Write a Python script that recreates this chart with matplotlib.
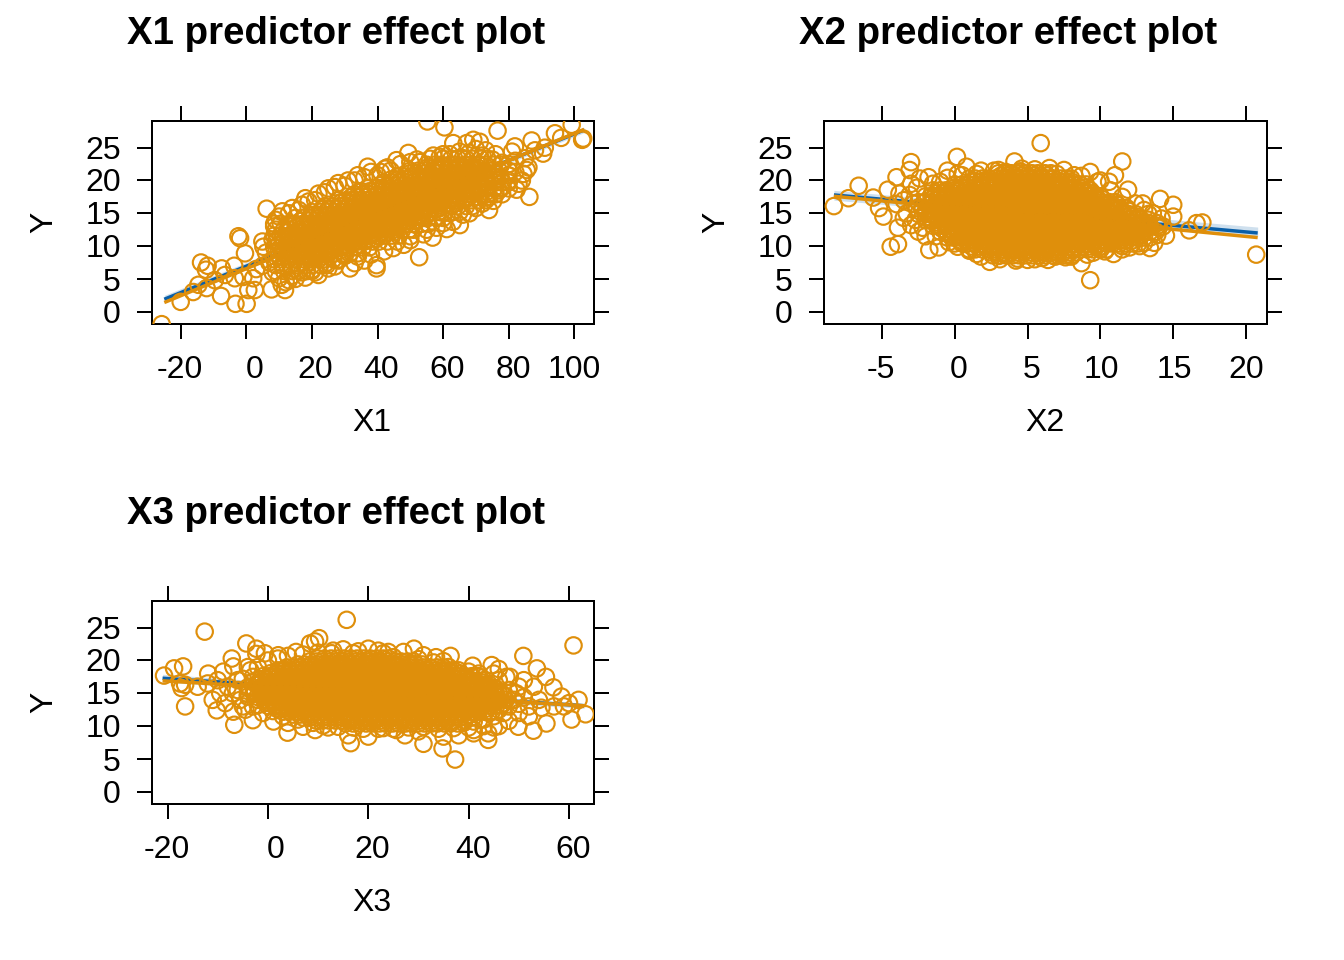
import matplotlib
matplotlib.use("Agg")
import matplotlib.pyplot as plt

plt.rcParams['font.family'] = ['Liberation Sans', 'DejaVu Sans']
W, H = 1344, 960
ORANGE = '#DF8F0B'
BLUE = '#0A5FA8'
BAND = '#CFE0EE'

# ---------- panel X1: readings ----------
x1_fringe = [(-25.8,-1.9),(-20,1.5),(-7.7,2.4),(-3.3,1.2),(0.1,1.2),(-13.8,7.5),(-11.8,7.0),(-12.3,6.4),(-2.4,11.5),(-1.9,11.2),
 (-0.4,8.9),(6.2,15.7),(-7.5,6.6),(-3.7,7.0),(-14.6,4.1),(-16.2,3.0),(-12.1,3.6),(-9.6,4.8),(-6.5,5.6),(-3.5,5.1),(0.6,3.3),(2.6,3.3),
 (2.1,5.1),(-0.9,5.3),(7.7,3.4),(11.8,3.3),(10.8,4.1),(4.9,10.7),(5.2,9.9),(52.7,8.3),(56.8,11.3),(61.1,12.6),(65.1,13.2),(75.3,16.9),
 (86.3,17.5),(82.4,18.6),(76.6,27.6),(55.2,29.0),(60.4,28.1),(63.1,25.7),(94.1,27.2),(99.2,28.5),(102.4,26.2),(102.7,26.4),(87,26.1),
 (81.9,25.2),(90.5,24.1),(85.5,21.6),(84.5,21),(86,22),(79.9,20.8),(76.3,20.1),(70.7,17.5),(73.3,18.3),(69.2,26.2),(71.2,25.9),(67.2,25.7),
 (37,22.1),(42.3,21.8),(49.4,24.2),(45.8,23.1),(22,5.6),(31.6,6.6),(39.7,7.1),(39.7,6.6),(44.8,9.7),(48,10.2),(50,10.9),(25,6.6),(28,7.8),
 (33,7.4),(36,7.8),(14,5.5),(17,6),(20,6.4),(12,4.5),(5,7),(3,6.5),(6,9),(7,7.5),(8,11),(8.5,13),(10,14.5),(13,15),(17,16.3),(19,16.8),
 (22,18),(25,18.8),(27,19),(30,19.2),(33,20),(36,20.5),(40,20.8),(44,21.5),(52,23.2),(57,23.8),(60,24),(65,24.4),(70,24.8),(73,24.6),(76,24),
 (81,24.4),(85,23.4),(88,24.6),(82,23),(80,22.5),(74,15.5),(68,15),(60,13.5),(55,12.5),(83,19.5),(84,20),(78,19),(91,25),(96,26.5),
 (9,14),(11,15.3),(14,15.8),(16,15.5),(18,17.3),(21,17),(24,18.2),(28,19.6),(31,20),(34,20.8),(38,21.3),(41,21.3),(43,22),(47,22.5),(50,22.8),
 (53,22.8),(56,23.3),(59,23.6),(62,24),(66,23.4),(68,24.2),(72,23.8),(75,23.2),(78,22.7),(80,21.5),(82,21.3),(80,20),(77,18.5),(74,17.5),(72,16.5),
 (70,15.8),(66,14.8),(63,13.7),(58,12.8),(54,11.8),(50,11.5),(46,10.7),(42,9.2),(38,8.7),(34,8.4),(30,8.5),(27,6.9),(24,7.3),(21,6),(18,5.2),
 (15,5),(13,4.8),(10,5.1),(8,6)]
x1_rows_y = [6.2,7.1,8.0,8.9,9.8,10.7,11.6,12.5,13.4,14.3,15.2,16.1,17.0,17.9,18.8,19.7,20.6,21.5,22.4,23.3,
 8.45,9.35,10.25,11.15,12.05,12.95,13.85,14.75,15.65,16.55,17.45,18.35,19.25,20.15,21.05,21.95]
x1_rows_x = [
 [9,11.5,14,16,18.5,20],
 [9,11,13.5,15.5,18,20,22.5,24.5],
 [8.5,10.5,13,15,17.5,19.5,22,24,26.5,28.5],
 [9,11.5,13.5,16,18,20.5,22.5,25,27,29.5,31.5,34],
 [8.5,10.5,13,15,17.5,19.5,22,24,26.5,28.5,31,33,35.5,37.5],
 [9,11.5,13.5,16,18,20.5,22.5,25,27,29.5,31.5,34,36,38.5,40.5,43],
 [8.5,10.5,13,15,17.5,19.5,22,24,26.5,28.5,31,33,35.5,37.5,40,42,44.5,46.5],
 [9,11.5,13.5,16,18,20.5,22.5,25,27,29.5,31.5,34,36,38.5,40.5,43,45,47.5,49.5,51],
 [8.5,10.5,13,15,17.5,19.5,22,24,26.5,28.5,31,33,35.5,37.5,40,42,44.5,46.5,49,51,53.5,55.5],
 [15,17.5,19.5,22,24,26.5,28.5,31,33,35.5,37.5,40,42,44.5,46.5,49,51,53.5,55.5,58,60],
 [20,22.5,24.5,27,29,31.5,33.5,36,38,40.5,42.5,45,47,49.5,51.5,54,56,58.5,60.5,63,65],
 [24,26.5,28.5,31,33,35.5,37.5,40,42,44.5,46.5,49,51,53.5,55.5,58,60,62.5,64.5,67,69],
 [28,30.5,32.5,35,37,39.5,41.5,44,46,48.5,50.5,53,55,57.5,59.5,62,64,66.5,68.5,71,73],
 [33,35.5,37.5,40,42,44.5,46.5,49,51,53.5,55.5,58,60,62.5,64.5,67,69,71.5,73.5,76,78],
 [37,39.5,41.5,44,46,48.5,50.5,53,55,57.5,59.5,62,64,66.5,68.5,71,73,75.5,77.5,80],
 [42,44.5,46.5,49,51,53.5,55.5,58,60,62.5,64.5,67,69,71.5,73.5,76,78,80],
 [46,48.5,50.5,53,55,57.5,59.5,62,64,66.5,68.5,71,73,75.5,77.5],
 [50,52.5,54.5,57,59,61.5,63.5,66,68,70.5,72.5,75,77],
 [55,57.5,59.5,62,64,66.5,68.5,71,73,75.5,77.5],
 [60,62.5,64.5,67,69,71.5,73.5],
 [10,12.2,14.4,16.6,18.8,21,23.2,25.4],
 [11.1,13.3,15.5,17.7,19.9,22.1,24.3,26.5,28.7],
 [10,12.2,14.4,16.6,18.8,21,23.2,25.4,27.6,29.8,32,34.2],
 [11.1,13.3,15.5,17.7,19.9,22.1,24.3,26.5,28.7,30.9,33.1,35.3,37.5,39.7],
 [12.2,14.4,16.6,18.8,21,23.2,25.4,27.6,29.8,32,34.2,36.4,38.6,40.8,43],
 [13.3,15.5,17.7,19.9,22.1,24.3,26.5,28.7,30.9,33.1,35.3,37.5,39.7,41.9,44.1,46.3],
 [16.6,18.8,21,23.2,25.4,27.6,29.8,32,34.2,36.4,38.6,40.8,43,45.2,47.4,49.6,51.8],
 [19.9,22.1,24.3,26.5,28.7,30.9,33.1,35.3,37.5,39.7,41.9,44.1,46.3,48.5,50.7,52.9,55.1],
 [23.2,25.4,27.6,29.8,32,34.2,36.4,38.6,40.8,43,45.2,47.4,49.6,51.8,54,56.2,58.4],
 [28.7,30.9,33.1,35.3,37.5,39.7,41.9,44.1,46.3,48.5,50.7,52.9,55.1,57.3,59.5,61.7,63.9],
 [32,34.2,36.4,38.6,40.8,43,45.2,47.4,49.6,51.8,54,56.2,58.4,60.6,62.8,65,67.2],
 [35.3,37.5,39.7,41.9,44.1,46.3,48.5,50.7,52.9,55.1,57.3,59.5,61.7,63.9,66.1,68.3,70.5],
 [40.8,43,45.2,47.4,49.6,51.8,54,56.2,58.4,60.6,62.8,65,67.2,69.4,71.6,73.8],
 [44.1,46.3,48.5,50.7,52.9,55.1,57.3,59.5,61.7,63.9,66.1,68.3,70.5,72.7],
 [49.6,51.8,54,56.2,58.4,60.6,62.8,65,67.2,69.4,71.6,73.8],
 [55.1,57.3,59.5,61.7,63.9,66.1,68.3,70.5],
]
x1_line_x = [-25, 103]
x1_blue = [1.9, 27.7]
x1_orange = [1.4, 27.8]
x1_band_lo = [1.4, 27.3]
x1_band_hi = [2.5, 28.1]

# ---------- panel X2 ----------
x2_fringe = [(5.9,25.7),(-8.3,16.1),(-7.3,17.3),(-6.6,19.2),(-5.6,17.4),(-5.2,15.8),(-4.9,14.5),(-3.9,12.8),(-4.4,9.9),(-3.9,10.3),
 (-1.75,9.4),(-1.1,9.8),(-2.5,12.2),(-3,22.8),(-3.1,21.6),(-4,20.5),(-4.6,18.6),(0.15,23.6),(-0.5,21.5),(0.8,22.1),(2.7,21.5),(4.1,22.9),
 (4.6,21.8),(0.4,10.7),(2.4,7.6),(3.6,8.6),(5,7.9),(6.9,8.4),(8.7,7.4),(9.3,4.8),(10.9,8.8),(13.4,9.7),(11.5,22.9),(11,20.8),(10.6,19.8),
 (9.3,21.3),(11.9,18.6),(8.2,20.8),(12.9,16.5),(14.1,17.2),(15,16.3),(15,14.5),(13,15.5),(13.9,13.5),(13.9,11.7),(16.1,12.4),(16.6,13.5),
 (17,13.6),(20.7,8.7),(12,9.8),(9.9,9.8),(-3.5,17),(-3.3,15),(-4,16.4),(-3.8,18),(-3,19.5),(-2.4,20.3),(-1.8,20.5),(-1,19.8),(-2.7,14),
 (-2,11.5),(-0.5,12),(0.2,21),(1.5,21),(3.5,21.3),(7,21),(10,20),(1.5,8.8),(3,8.5),(4.3,8.1),(6,8.2),(8,8.4),(9.5,9),(11.5,10),(13,10.5),(14,12.8),(13.6,15),
 (-2.8,16.5),(-3.1,17.8),(-2.6,18.9),(-1.5,19.5),(-0.5,20.4),(0.5,20.8),(1.8,21.5),(3,21.6),(4.5,21.4),(5.5,21.7),(6.5,21.9),(7.5,21.6),(8.7,20.7),
 (9.8,19.8),(10.7,18.5),(11.5,17.5),(12.4,16.5),(13.3,14.9),(14.2,14.2),(14.3,13),(14.5,11.6),(13.7,10.5),(12.7,10),(11.5,9.5),(10.3,9.2),(9.1,8.7),
 (7.6,8.3),(6.4,7.9),(5.5,8),(4.2,7.8),(3.1,8),(1.8,8.4),(1,9.3),(0.2,9.9),(-0.4,10.6),(-1.3,11.5),(-2.2,12.8),(-3,13.2),(-3.5,14.3)]
x2_rows_y = [8.6,9.5,10.4,11.3,12.2,13.1,14.0,14.9,15.8,16.7,17.6,18.5,19.4,20.3,21.1,
 9.05,9.95,10.85,11.75,12.65,13.55,14.45,15.35,16.25,17.15,18.05,18.95,19.85,20.75]
x2_rows_x = [
 [2.6,3.1,3.5,4,4.4,4.9,5.3,5.8,6.2,6.7,7.1,7.6,8],
 [1,1.4,1.9,2.3,2.8,3.2,3.7,4.1,4.6,5,5.5,5.9,6.4,6.8,7.3,7.7,8.2,8.6,9.1,9.5,10,10.4],
 [0,0.5,0.9,1.4,1.8,2.3,2.7,3.2,3.6,4.1,4.5,5,5.4,5.9,6.3,6.8,7.2,7.7,8.1,8.6,9,9.5,9.9,10.4,10.8,11.3,11.7,12.2,12.6],
 [-0.5,-0.1,0.4,0.8,1.3,1.7,2.2,2.6,3.1,3.5,4,4.4,4.9,5.3,5.8,6.2,6.7,7.1,7.6,8,8.5,8.9,9.4,9.8,10.3,10.7,11.2,11.6,12.1,12.5,13,13.4],
 [-1,-0.6,-0.1,0.3,0.8,1.2,1.7,2.1,2.6,3,3.5,3.9,4.4,4.8,5.3,5.7,6.2,6.6,7.1,7.5,8,8.4,8.9,9.3,9.8,10.2,10.7,11.1,11.6,12,12.5,12.9,13.4,13.8],
 [-1.5,-1,-0.6,-0.1,0.3,0.8,1.2,1.7,2.1,2.6,3,3.5,3.9,4.4,4.8,5.3,5.7,6.2,6.6,7.1,7.5,8,8.4,8.9,9.3,9.8,10.2,10.7,11.1,11.6,12,12.5,12.9,13.4,13.9],
 [-2,-1.6,-1.1,-0.7,-0.2,0.2,0.7,1.1,1.6,2,2.5,2.9,3.4,3.8,4.3,4.7,5.2,5.6,6.1,6.5,7,7.4,7.9,8.3,8.8,9.2,9.7,10.1,10.6,11,11.5,11.9,12.4,12.8,13.3],
 [-2.5,-2,-1.6,-1.1,-0.7,-0.2,0.2,0.7,1.1,1.6,2,2.5,2.9,3.4,3.8,4.3,4.7,5.2,5.6,6.1,6.5,7,7.4,7.9,8.3,8.8,9.2,9.7,10.1,10.6,11,11.5,11.9,12.4],
 [-2.6,-2.2,-1.7,-1.3,-0.8,-0.4,0.1,0.5,1,1.4,1.9,2.3,2.8,3.2,3.7,4.1,4.6,5,5.5,5.9,6.4,6.8,7.3,7.7,8.2,8.6,9.1,9.5,10,10.4,10.9,11.3,11.8],
 [-2.5,-2,-1.6,-1.1,-0.7,-0.2,0.2,0.7,1.1,1.6,2,2.5,2.9,3.4,3.8,4.3,4.7,5.2,5.6,6.1,6.5,7,7.4,7.9,8.3,8.8,9.2,9.7,10.1,10.6,11],
 [-2,-1.6,-1.1,-0.7,-0.2,0.2,0.7,1.1,1.6,2,2.5,2.9,3.4,3.8,4.3,4.7,5.2,5.6,6.1,6.5,7,7.4,7.9,8.3,8.8,9.2,9.7,10],
 [-1.5,-1,-0.6,-0.1,0.3,0.8,1.2,1.7,2.1,2.6,3,3.5,3.9,4.4,4.8,5.3,5.7,6.2,6.6,7.1,7.5,8,8.4,8.9,9.3],
 [0,0.5,0.9,1.4,1.8,2.3,2.7,3.2,3.6,4.1,4.5,5,5.4,5.9,6.3,6.8,7.2,7.7,8.1,8.6,9],
 [1,1.4,1.9,2.3,2.8,3.2,3.7,4.1,4.6,5,5.5,5.9,6.4,6.8,7.3,7.7,8],
 [3,3.5,3.9,4.4,4.8,5.3,5.7,6.2,6.6],
 [2.5,2.95,3.4,3.85,4.3,4.75,5.2,5.65,6.1,6.55,7,7.45,7.9,8.35],
 [1.15,1.6,2.05,2.5,2.95,3.4,3.85,4.3,4.75,5.2,5.65,6.1,6.55,7,7.45,7.9,8.35,8.8,9.25,9.7,10.15],
 [0.48,0.93,1.38,1.83,2.28,2.73,3.18,3.63,4.08,4.53,4.98,5.43,5.88,6.33,6.78,7.23,7.68,8.13,8.58,9.03,9.48,9.93,10.38,10.83,11.28,11.73,12.18],
 [-0.2,0.25,0.7,1.15,1.6,2.05,2.5,2.95,3.4,3.85,4.3,4.75,5.2,5.65,6.1,6.55,7,7.45,7.9,8.35,8.8,9.25,9.7,10.15,10.6,11.05,11.5,11.95,12.4,12.85],
 [-0.87,-0.42,0.03,0.48,0.93,1.38,1.83,2.28,2.73,3.18,3.63,4.08,4.53,4.98,5.43,5.88,6.33,6.78,7.23,7.68,8.13,8.58,9.03,9.48,9.93,10.38,10.83,11.28,11.73,12.18,12.63,13.08],
 [-1.1,-0.65,-0.2,0.25,0.7,1.15,1.6,2.05,2.5,2.95,3.4,3.85,4.3,4.75,5.2,5.65,6.1,6.55,7,7.45,7.9,8.35,8.8,9.25,9.7,10.15,10.6,11.05,11.5,11.95,12.4,12.85,13.3],
 [-1.77,-1.32,-0.87,-0.42,0.03,0.48,0.93,1.38,1.83,2.28,2.73,3.18,3.63,4.08,4.53,4.98,5.43,5.88,6.33,6.78,7.23,7.68,8.13,8.58,9.03,9.48,9.93,10.38,10.83,11.28,11.73,12.18,12.63],
 [-2,-1.55,-1.1,-0.65,-0.2,0.25,0.7,1.15,1.6,2.05,2.5,2.95,3.4,3.85,4.3,4.75,5.2,5.65,6.1,6.55,7,7.45,7.9,8.35,8.8,9.25,9.7,10.15,10.6,11.05,11.5,11.95],
 [-1.77,-1.32,-0.87,-0.42,0.03,0.48,0.93,1.38,1.83,2.28,2.73,3.18,3.63,4.08,4.53,4.98,5.43,5.88,6.33,6.78,7.23,7.68,8.13,8.58,9.03,9.48,9.93,10.38,10.83,11.2],
 [-1.55,-1.1,-0.65,-0.2,0.25,0.7,1.15,1.6,2.05,2.5,2.95,3.4,3.85,4.3,4.75,5.2,5.65,6.1,6.55,7,7.45,7.9,8.35,8.8,9.25,9.7,10.15],
 [-1.32,-0.87,-0.42,0.03,0.48,0.93,1.38,1.83,2.28,2.73,3.18,3.63,4.08,4.53,4.98,5.43,5.88,6.33,6.78,7.23,7.68,8.13,8.58,9.03,9.48],
 [0.03,0.48,0.93,1.38,1.83,2.28,2.73,3.18,3.63,4.08,4.53,4.98,5.43,5.88,6.33,6.78,7.23,7.68,8.13,8.58,9],
 [1.38,1.83,2.28,2.73,3.18,3.63,4.08,4.53,4.98,5.43,5.88,6.33,6.78,7.23,7.68,8],
 [3.18,3.63,4.08,4.53,4.98,5.43,5.88,6.33],
]
x2_line_x = [-8.3, 20.8]
x2_blue = [17.8, 12.0]
x2_orange = [17.6, 11.3]
x2_band_lo = [17.0, 11.5]
x2_band_hi = [18.5, 12.9]

# ---------- panel X3 ----------
x3_fringe = [(15.7,26.2),(-12.6,24.4),(-20.7,17.7),(-18.7,18.8),(-16.9,19.1),(-16.5,13),(-17.2,15.8),(-17.5,16.5),(-16.5,16.3),(-11.9,18),
 (-10.2,12.4),(-6.7,10.2),(-3,10.9),(-6.9,12.2),(-4.3,22.6),(-2.3,21.8),(-7.2,20.3),(-6.9,19.1),(-8.9,18.3),(-2.3,21),(-0.6,21.1),(2.06,20.8),
 (5.6,21.3),(8.4,22.6),(10.2,23.4),(9.4,22.9),(12.7,21.1),(17,21.1),(23,21.1),(29.1,21.8),(33.5,20.5),(36.4,20.7),(40.8,19.2),(44.6,19.3),
 (48.2,17.5),(50.9,20.7),(53.6,18.8),(55.4,17.5),(56.9,15.9),(60.9,22.3),(61.9,14),(58.5,14.5),(63.3,11.8),(60.5,11),(55.5,10.4),(52.9,9.3),
 (49.9,9.9),(43.9,7.9),(43.9,8.9),(37.3,4.9),(34.8,6.6),(31,7.3),(27.3,8.6),(25.6,9.4),(20,8.4),(16.5,7.4),(16,8.6),(3.9,9),(9.4,9.4),(7,9.9),
 (1.1,10.7),(51,17),(53,16),(54,14),(50,12),(52,11.5),(47,12),(48,15.5),(46,17),(54.5,12.8),(57,13),(59,13),(60,13.5),(-14,16),(-12,16.5),
 (-11,14),(-9.5,15),(-8.5,13.5),(-7,15),(-6,17),(-5,13),(-10,17),(-8,16),(-4,14.5),(-3,17.5),(-3,13),(-4,19),(-1,12),(4,10.5),(12,9.8),(22,9.6),
 (30,9.2),(38,8.6),(35,8.4),(41,9.4),(46,10),(48,10.8),(25,20.5),(31,20.8),(35,19.9),(42,18),(46,18.7),
 (38,17.5),(40,17),(42,16.5),(44,16.4),(45,15.8),(46,15),(47,14.6),(47,13.5),(46,12.5),(45,11.5),(43,11),(41,10.7),(39,10.5),(44,12),(42,12.3),
 (40,11.7),(46.5,13.2),(44,16),(42,17.5),(38,18.5),(40,18.3),(36,19),(33,19.7),(30,20.2),(48,13),(49,14),(49.5,15),(50,13.4),(51,14.4),(52,13),
 (50,16),(47.5,17.5),(45,18),(43,17),(41,8.9),(45,9.8),(43,10),(40,9.8),(37,9.7),(34,9.6),(31,9.9),(28,9.8),(25,9.6),(23,9.7),(19,9.6),(17,9.8),
 (14,9.9),(11,10.1),(9,10.5),(6,11),(3,11.5),(1,12.3),(-2,13.2),(-4,15.9),(0,20),(2,20.3),(4,20.7),(7,20.9),(10,21.2),(13,21.5),(15,21.7),
 (18,21.4),(20,21.8),(22,21.5),(24,21.3),(27,21.3),(-2,19),(-3.5,18.5),(-5,17.2),(-6,15.5),(-5.5,14),(-4.5,12.5)]
x3_rows_y = [10.4,11.3,12.2,13.1,14.0,14.9,15.8,16.7,17.6,18.5,19.4,20.3,
 10.85,11.75,12.65,13.55,14.45,15.35,16.25,17.15,18.05,18.95,19.85]
x3_rows_x = [
 [15.5,17,18.2,19.6,20.8,22.2,23.4,24.8,26,27.4,28.6,30,31.2,32.6,33.8,35.2,36.4,37.8],
 [7,8.3,9.6,10.9,12.2,13.5,14.8,16.1,17.4,18.7,20,21.3,22.6,23.9,25.2,26.5,27.8,29.1,30.4,31.7,33,34.3,35.6,36.9,38.2,39.5,40.8],
 [3,4.3,5.6,6.9,8.2,9.5,10.8,12.1,13.4,14.7,16,17.3,18.6,19.9,21.2,22.5,23.8,25.1,26.4,27.7,29,30.3,31.6,32.9,34.2,35.5,36.8,38.1,39.4,40.7,42,43.3,44.6],
 [0,1.3,2.6,3.9,5.2,6.5,7.8,9.1,10.4,11.7,13,14.3,15.6,16.9,18.2,19.5,20.8,22.1,23.4,24.7,26,27.3,28.6,29.9,31.2,32.5,33.8,35.1,36.4,37.7,39,40.3,41.6,42.9,44.2,45.5],
 [-2,-0.7,0.6,1.9,3.2,4.5,5.8,7.1,8.4,9.7,11,12.3,13.6,14.9,16.2,17.5,18.8,20.1,21.4,22.7,24,25.3,26.6,27.9,29.2,30.5,31.8,33.1,34.4,35.7,37,38.3,39.6,40.9,42.2,43.5,44.8,46.1,47.4],
 [-4,-2.7,-1.4,-0.1,1.2,2.5,3.8,5.1,6.4,7.7,9,10.3,11.6,12.9,14.2,15.5,16.8,18.1,19.4,20.7,22,23.3,24.6,25.9,27.2,28.5,29.8,31.1,32.4,33.7,35,36.3,37.6,38.9,40.2,41.5,42.8,44.1,45.4,46.7],
 [-4,-2.8,-1.5,-0.2,1.1,2.4,3.7,5,6.3,7.6,8.9,10.2,11.5,12.8,14.1,15.4,16.7,18,19.3,20.6,21.9,23.2,24.5,25.8,27.1,28.4,29.7,31,32.3,33.6,34.9,36.2,37.5,38.8,40.1,41.4,42.7,44,45.3],
 [-3,-1.7,-0.4,0.9,2.2,3.5,4.8,6.1,7.4,8.7,10,11.3,12.6,13.9,15.2,16.5,17.8,19.1,20.4,21.7,23,24.3,25.6,26.9,28.2,29.5,30.8,32.1,33.4,34.7,36,37.3,38.6,39.9,41.2,42.5],
 [-1,0.3,1.6,2.9,4.2,5.5,6.8,8.1,9.4,10.7,12,13.3,14.6,15.9,17.2,18.5,19.8,21.1,22.4,23.7,25,26.3,27.6,28.9,30.2,31.5,32.8,34.1,35.4,36.7,38,39.3,40.6,41.9],
 [2,3.3,4.6,5.9,7.2,8.5,9.8,11.1,12.4,13.7,15,16.3,17.6,18.9,20.2,21.5,22.8,24.1,25.4,26.7,28,29.3,30.6,31.9,33.2,34.5,35.8,37],
 [6,7.3,8.6,9.9,11.2,12.5,13.8,15.1,16.4,17.7,19,20.3,21.6,22.9,24.2,25.5,26.8,28.1,29.4,30.7],
 [10,11.3,12.6,13.9,15.2,16.5,17.8,19.1,20.4,21.7,23,24],
 [9.6,10.9,12.2,13.5,14.8,16.1,17.4,18.7,20,21.3,22.6,23.9,25.2,26.5,27.8,29.1,30.4,31.7,33,34.3,35.6,36.9],
 [5.05,6.35,7.65,8.95,10.25,11.55,12.85,14.15,15.45,16.75,18.05,19.35,20.65,21.95,23.25,24.55,25.85,27.15,28.45,29.75,31.05,32.35,33.65,34.95,36.25,37.55,38.85,40.15],
 [1.8,3.1,4.4,5.7,7,8.3,9.6,10.9,12.2,13.5,14.8,16.1,17.4,18.7,20,21.3,22.6,23.9,25.2,26.5,27.8,29.1,30.4,31.7,33,34.3,35.6,36.9,38.2,39.5,40.8,42.1,43.4],
 [-0.15,1.15,2.45,3.75,5.05,6.35,7.65,8.95,10.25,11.55,12.85,14.15,15.45,16.75,18.05,19.35,20.65,21.95,23.25,24.55,25.85,27.15,28.45,29.75,31.05,32.35,33.65,34.95,36.25,37.55,38.85,40.15,41.45,42.75,44.05,45.35],
 [-2.1,-0.8,0.5,1.8,3.1,4.4,5.7,7,8.3,9.6,10.9,12.2,13.5,14.8,16.1,17.4,18.7,20,21.3,22.6,23.9,25.2,26.5,27.8,29.1,30.4,31.7,33,34.3,35.6,36.9,38.2,39.5,40.8,42.1,43.4,44.7],
 [-2.75,-1.45,-0.15,1.15,2.45,3.75,5.05,6.35,7.65,8.95,10.25,11.55,12.85,14.15,15.45,16.75,18.05,19.35,20.65,21.95,23.25,24.55,25.85,27.15,28.45,29.75,31.05,32.35,33.65,34.95,36.25,37.55,38.85,40.15,41.45,42.75,44.05,45.35],
 [-2.1,-0.8,0.5,1.8,3.1,4.4,5.7,7,8.3,9.6,10.9,12.2,13.5,14.8,16.1,17.4,18.7,20,21.3,22.6,23.9,25.2,26.5,27.8,29.1,30.4,31.7,33,34.3,35.6,36.9,38.2,39.5,40.8,42.1,43.4],
 [-1.45,-0.15,1.15,2.45,3.75,5.05,6.35,7.65,8.95,10.25,11.55,12.85,14.15,15.45,16.75,18.05,19.35,20.65,21.95,23.25,24.55,25.85,27.15,28.45,29.75,31.05,32.35,33.65,34.95,36.25,37.55,38.85,40.15],
 [0.5,1.8,3.1,4.4,5.7,7,8.3,9.6,10.9,12.2,13.5,14.8,16.1,17.4,18.7,20,21.3,22.6,23.9,25.2,26.5,27.8,29.1,30.4,31.7,33,34.3,35.6,36.9,38.2],
 [3.75,5.05,6.35,7.65,8.95,10.25,11.55,12.85,14.15,15.45,16.75,18.05,19.35,20.65,21.95,23.25,24.55,25.85,27.15,28.45,29.75,31.05,32.35,33.65,34.95],
 [8.3,9.6,10.9,12.2,13.5,14.8,16.1,17.4,18.7,20,21.3,22.6,23.9,25.2,26.5,27.8,29.1],
]
x3_line_x = [-21, 63]
x3_blue = [17.3, 13.1]
x3_orange = [16.9, 13.1]
x3_band_lo = [16.7, 12.7]
x3_band_hi = [17.9, 13.5]

# ---------- ticks and labels ----------
y_ticks = [0, 5, 10, 15, 20, 25]
x1_ticks = [-20, 0, 20, 40, 60, 80, 100]
x2_ticks = [-5, 0, 5, 10, 15, 20]
x3_ticks = [-20, 0, 20, 40, 60]
x1_label_px = [180, 255, 315, 381, 447, 513, 574]
x2_label_px = [881, 959, 1032, 1101, 1174, 1246]
x3_label_px = [167, 276, 372, 473, 573]
y_label_px = [315, 283, 249, 216, 183, 151]

fig = plt.figure(figsize=(W / 192, H / 192), dpi=192)
FS = 12


def ftext(px, py, s, **kw):
    fig.text(px / W, 1 - py / H, s, **kw)


def panel(box, xlim, ticks, label_px, name, fringe, rows_y, rows_x, line_x, blue, orange, lo, hi,
          title_xy, xlabel_xy, ylabel_xy, ytick_dy):
    l, t, r, b = box
    ax = fig.add_axes([l / W, 1 - b / H, (r - l) / W, (b - t) / H])
    ax.fill_between(line_x, lo, hi, color=BAND, lw=0, zorder=1)
    ax.plot(line_x, blue, color=BLUE, lw=1.3, zorder=2, solid_capstyle='butt')
    ax.plot(line_x, orange, color=ORANGE, lw=1.3, zorder=3, solid_capstyle='butt')
    xs = [p[0] for p in fringe]
    ys = [p[1] for p in fringe]
    for yv, row in zip(rows_y, rows_x):
        xs.extend(row)
        ys.extend([yv] * len(row))
    ax.scatter(xs, ys, s=38, facecolors='none', edgecolors=ORANGE, linewidths=0.8, zorder=4)
    ax.set_xlim(*xlim)
    ax.set_ylim(-1.875, 29.07)
    ax.set_xticks(ticks)
    ax.set_yticks(y_ticks)
    ax.tick_params(axis='both', which='major', length=5.6, width=0.75, top=True, right=True,
                   labelbottom=False, labelleft=False)
    for s in ax.spines.values():
        s.set_linewidth(0.75)
    for p, v in zip(label_px, ticks):
        ftext(p, b + 46, str(v), ha='center', va='center', fontsize=FS)
    for p, v in zip(y_label_px, y_ticks):
        ftext(l - 31, p + ytick_dy, str(v), ha='right', va='center', fontsize=FS)
    ftext(*title_xy, f'{name} predictor effect plot', ha='center', va='center', fontsize=14.4, fontweight='bold')
    ftext(*xlabel_xy, name, ha='center', va='center', fontsize=FS)
    ftext(*ylabel_xy, 'Y', ha='center', va='center', rotation=90, fontsize=FS)


panel((152, 121, 594, 324), (-28.75, 106), x1_ticks, x1_label_px, 'X1', x1_fringe, x1_rows_y, x1_rows_x,
      x1_line_x, x1_blue, x1_orange, x1_band_lo, x1_band_hi, (336, 34), (372, 423), (44, 222), 0)
panel((824, 121, 1267, 324), (-8.98, 21.44), x2_ticks, x2_label_px, 'X2', x2_fringe, x2_rows_y, x2_rows_x,
      x2_line_x, x2_blue, x2_orange, x2_band_lo, x2_band_hi, (1008, 34), (1045, 423), (716, 222), 0)
panel((152, 601, 594, 804), (-23.1, 64.98), x3_ticks, x3_label_px, 'X3', x3_fringe, x3_rows_y, x3_rows_x,
      x3_line_x, x3_blue, x3_orange, x3_band_lo, x3_band_hi, (336, 514), (372, 903), (44, 702), 480)

fig.savefig('out.png', dpi=192)
